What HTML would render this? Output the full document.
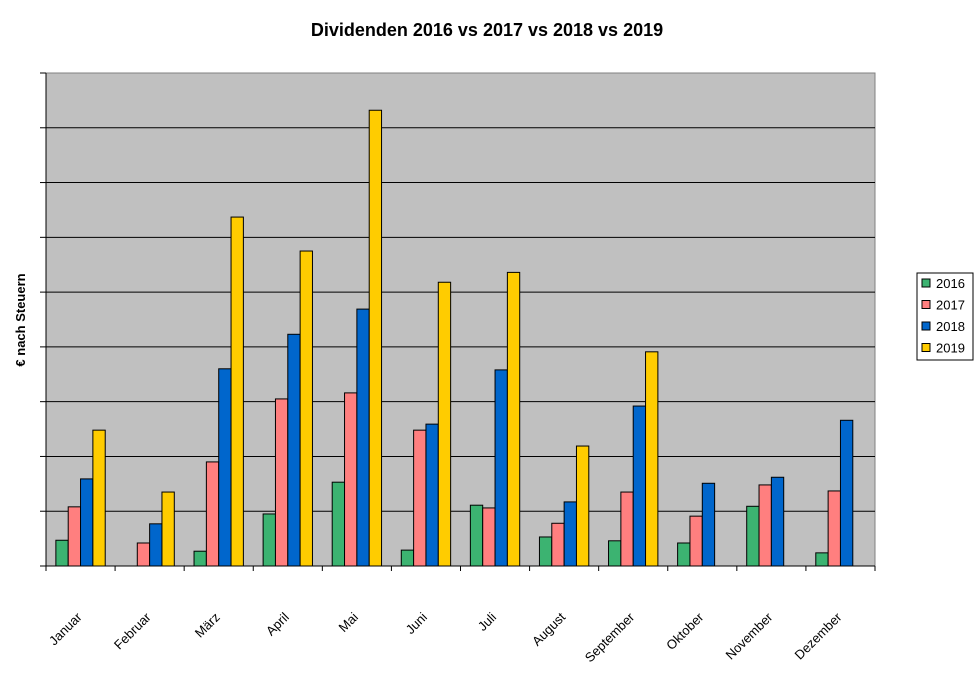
<!DOCTYPE html>
<html><head><meta charset="utf-8"><style>
html,body{margin:0;padding:0;background:#fff;}
svg{display:block;font-family:"Liberation Sans",Arial,sans-serif;}
</style></head><body>
<svg id="chart" width="978" height="684">
<text x="487" y="36" text-anchor="middle" font-size="18" font-weight="bold">Dividenden 2016 vs 2017 vs 2018 vs 2019</text>
<text transform="translate(25,320) rotate(-90)" text-anchor="middle" font-size="13" font-weight="bold">€ nach Steuern</text>
<rect x="46" y="73" width="829" height="493" fill="#c0c0c0" stroke="#808080"/>
<g id="grid"></g><g id="bars"></g><g id="axes"></g><g id="labels"></g>
<g>
<rect x="917" y="273" width="56" height="87" fill="#fff" stroke="#000"/>
<g id="legend"></g>
</g>
</svg>
<script>
const categories=["Januar","Februar","März","April","Mai","Juni","Juli","August","September","Oktober","November","Dezember"];
const seriesNames=["2016","2017","2018","2019"];
const v2016=[0.47,0,0.27,0.95,1.53,0.29,1.11,0.53,0.46,0.42,1.09,0.24];
const v2017=[1.08,0.42,1.9,3.05,3.16,2.48,1.06,0.78,1.35,0.91,1.48,1.37];
const v2018=[1.59,0.77,3.6,4.23,4.69,2.59,3.58,1.17,2.92,1.51,1.62,2.66];
const v2019=[2.48,1.35,6.37,5.75,8.32,5.18,5.36,2.19,3.91,0,0,0];
const yMax=9;
const colors=["#3cb371","#ff7f7f","#0066cc","#ffcc00"];
const series=[v2016,v2017,v2018,v2019];
const NS="http://www.w3.org/2000/svg";
const X0=46,X1=875,Y0=566,Y1=73;
const gw=(X1-X0)/categories.length, bw=gw/5.6;
const y=v=>Y0-(v/yMax)*(Y0-Y1);
function mk(t,a,p){const e=document.createElementNS(NS,t);for(const k in a)e.setAttribute(k,a[k]);p.appendChild(e);return e;}
const grid=document.getElementById('grid'),bars=document.getElementById('bars'),axes=document.getElementById('axes'),labels=document.getElementById('labels'),legend=document.getElementById('legend');
for(let i=1;i<yMax;i++){const l=mk('line',{x1:X0,x2:X1,y1:y(i),y2:y(i),stroke:'#000','stroke-width':1},grid);

}
for(let i=0;i<=yMax;i++){mk('line',{x1:X0-6,x2:X0,y1:y(i),y2:y(i),stroke:'#000'},axes);}
mk('line',{x1:X0,x2:X0,y1:Y1,y2:Y0,stroke:'#000'},axes);
mk('line',{x1:X0,x2:X1,y1:Y0,y2:Y0,stroke:'#000'},axes);
categories.forEach((c,i)=>{
 const gx=X0+i*gw;
 mk('line',{x1:gx,x2:gx,y1:Y0,y2:Y0+5,stroke:'#000'},axes);
 series.forEach((s,k)=>{
  if(s[i]<=0)return;
  const r=mk('rect',{x:gx+0.8*bw+k*bw,y:y(s[i]),width:bw,height:Y0-y(s[i]),fill:colors[k],stroke:'#000','stroke-width':1},bars);
  
  
 });
 const cx=gx+gw/2;
 const t=mk('text',{x:0,y:0,'text-anchor':'end','font-size':13,transform:`translate(${cx+2},618) rotate(-45)`},labels);
 t.textContent=c;
 
 
});
mk('line',{x1:X1,x2:X1,y1:Y0,y2:Y0+5,stroke:'#000'},axes);
seriesNames.forEach((n,k)=>{
 const yy=279+k*21.5;
 mk('rect',{x:922,y:yy,width:8,height:8,fill:colors[k],stroke:'#000'},legend);
 const t=mk('text',{x:936,y:yy+9,'font-size':13},legend);
 t.textContent=n;
 
 
});
</script>
</body></html>
